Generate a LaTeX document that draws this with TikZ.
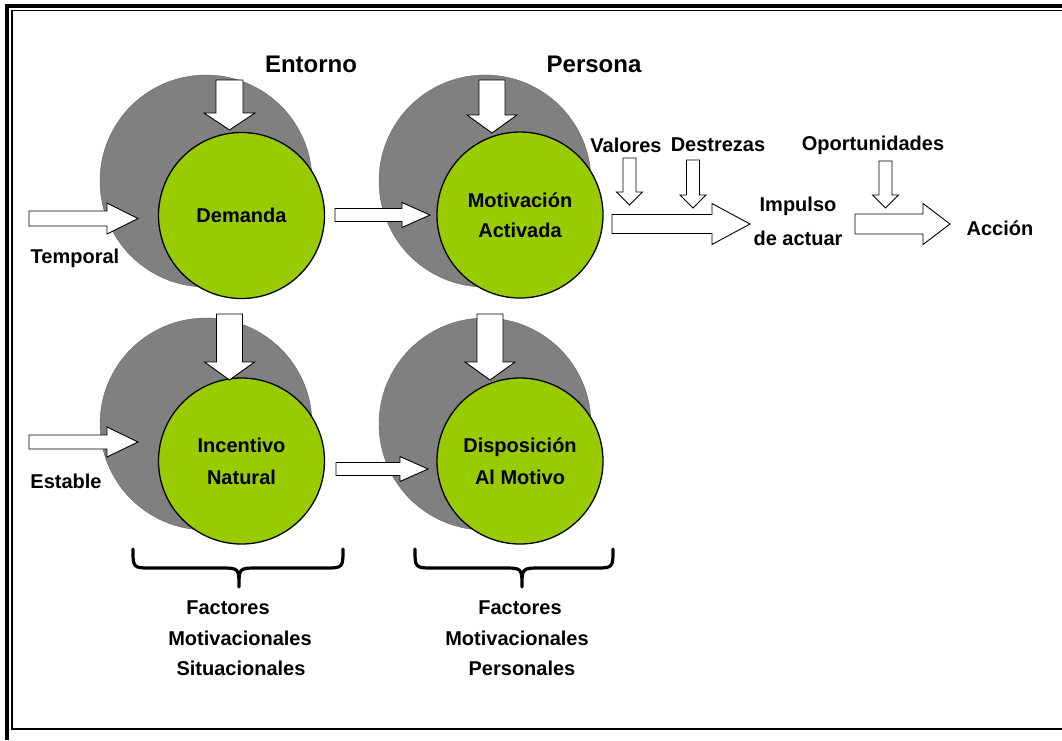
\documentclass[tikz,border=0pt]{standalone}
\usepackage{fontspec}
\setmainfont{Liberation Sans}
\definecolor{circgray}{HTML}{808080}
\definecolor{circgreen}{HTML}{99CC00}
\newcommand{\hblock}[6]{% x1 x2 y shaft head headlen
  \draw[blockarrow] (#1,#3-#4) -- (#2-#6,#3-#4) -- (#2-#6,#3-#5) -- (#2,#3)
    -- (#2-#6,#3+#5) -- (#2-#6,#3+#4) -- (#1,#3+#4) -- cycle;}
\newcommand{\vblock}[6]{% x y1 y2 shaft head headlen
  \draw[blockarrow] (#1-#4,#2) -- (#1-#4,#3-#6) -- (#1-#5,#3-#6) -- (#1,#3)
    -- (#1+#5,#3-#6) -- (#1+#4,#3-#6) -- (#1+#4,#2) -- cycle;}
\begin{document}
\begin{tikzpicture}[x=1pt,y=-1pt,
  graycirc/.style={circle,fill=circgray,draw=circgray!80!black,line width=0.4pt,minimum size=212pt,inner sep=0pt},
  greencirc/.style={circle,fill=circgreen,draw=black,line width=1.3pt,minimum size=166pt,inner sep=0pt,align=center,
     font=\fontsize{20}{30}\selectfont\bfseries},
  blockarrow/.style={fill=white,draw=black,line width=0.9pt,line join=miter},
  lbl/.style={font=\fontsize{20}{24}\selectfont\bfseries,inner sep=0pt,anchor=center},
  title/.style={font=\fontsize{24}{28}\selectfont\bfseries,inner sep=0pt},
  bracestyle/.style={draw=black,line width=3.2pt,line cap=round,line join=round}]
\useasboundingbox (0,0) rectangle (1062,740);
% frame
\draw[line width=4pt] (7,740) -- (7,6) -- (1062,6);
\draw[line width=1.4pt] (1062,10.5) -- (11.8,10.5) -- (11.8,729) -- (1062,729);
% row 1
\node[graycirc] (g1) at (206,181) {};
\node[greencirc] (c1) at (241.5,215.5) {Demanda};
\node[graycirc] (g2) at (485,181) {};
\node[greencirc] (c2) at (520,215) {Motivación\\Activada};
% row 2
\node[graycirc] (g3) at (206,424) {};
\node[greencirc] (c3) at (241.5,461) {Incentivo\\[2pt]Natural};
\node[graycirc] (g4) at (485,424) {};
\node[greencirc] (c4) at (520,461) {Disposición\\[2pt]Al Motivo};
% down arrows into circles
\vblock{229.5}{80}{130}{13.5}{25.5}{17}
\vblock{492}{80}{133}{13}{25}{18}
\vblock{229.5}{314}{380}{13}{25}{18}
\vblock{490}{314}{380}{13}{25}{18}
% horizontal arrows
\hblock{29}{138}{218.5}{7.5}{15.5}{31}
\hblock{29}{138}{442}{7}{15}{31}
\hblock{335}{430}{215}{6.5}{12.5}{28}
\hblock{336}{428}{469}{6.5}{12.5}{28}
\hblock{612}{750}{224}{9.5}{20.5}{38}
\hblock{855}{950}{224}{10}{20.5}{27}
% small down arrows
\vblock{629.5}{158}{205}{6.5}{13}{13}
\vblock{693}{160}{208}{6.5}{13}{13}
\vblock{885.5}{161}{208}{6.5}{13}{13}
% titles
\node[title] (entorno) at (311,64) {Entorno};
\node[title] (persona) at (594,64) {Persona};
% labels
\node[lbl] (temporal) at (75,258) {Temporal};
\node[lbl] (estable) at (66,481) {Estable};
\node[lbl] (valores) at (626,145) {Valores};
\node[lbl] (destrezas) at (718,145) {Destrezas};
\node[lbl] (oport) at (873,145) {Oportunidades};
\node[lbl] (impulso) at (798,206) {Impulso};
\node[lbl] (deact) at (798,238) {de actuar};
\node[lbl] (accion) at (1000,228) {Acción};
% braces
\draw[bracestyle] (133,549) .. controls (133,568) .. (152,568) -- (220,568)
   .. controls (239,568) .. (239,587) .. controls (239,568) .. (258,568)
   -- (324,568) .. controls (343,568) .. (343,549);
\draw[bracestyle] (415,549) .. controls (415,568) .. (434,568) -- (503,568)
   .. controls (522,568) .. (522,587) .. controls (522,568) .. (541,568)
   -- (594,568) .. controls (613,568) .. (613,549);
% brace texts
\node[lbl] (f1) at (228,608) {Factores};
\node[lbl] (m1) at (240,638) {Motivacionales};
\node[lbl] (s1) at (241,668) {Situacionales};
\node[lbl] (f2) at (520,608) {Factores};
\node[lbl] (m2) at (517,638) {Motivacionales};
\node[lbl] (p2) at (522,668) {Personales};
\end{tikzpicture}
\end{document}
